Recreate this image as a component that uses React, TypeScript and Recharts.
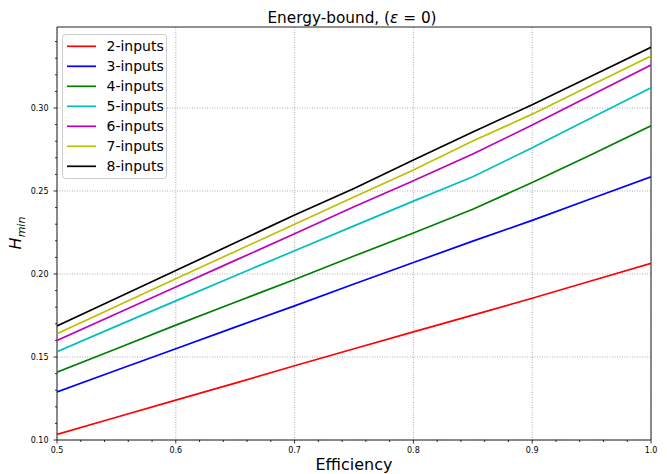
import { LineChart, Line, XAxis, YAxis, CartesianGrid, ReferenceArea } from "recharts"

// efficiency values on the x axis
const efficiency = [0.5, 0.55, 0.6, 0.65, 0.7, 0.75, 0.8, 0.85, 0.9, 0.95, 1.0]

// H_min for each number of inputs
const inputs2 = [0.1034, 0.1137, 0.124, 0.1343, 0.1447, 0.155, 0.1651, 0.1752, 0.1854, 0.1959, 0.2064]
const inputs3 = [0.1289, 0.142, 0.155, 0.168, 0.1808, 0.194, 0.2069, 0.2198, 0.2323, 0.2455, 0.2586]
const inputs4 = [0.1408, 0.155, 0.1692, 0.183, 0.1967, 0.2108, 0.2247, 0.239, 0.2551, 0.272, 0.2893]
const inputs5 = [0.1532, 0.1686, 0.1838, 0.199, 0.214, 0.229, 0.2439, 0.2586, 0.276, 0.2941, 0.3122]
const inputs6 = [0.16, 0.1761, 0.1922, 0.2082, 0.2242, 0.2405, 0.2562, 0.2723, 0.2897, 0.3078, 0.3259]
const inputs7 = [0.164, 0.1806, 0.1972, 0.2136, 0.23, 0.2464, 0.2627, 0.2801, 0.2963, 0.3138, 0.3313]
const inputs8 = [0.1687, 0.1854, 0.2021, 0.2188, 0.2355, 0.2515, 0.2687, 0.2855, 0.302, 0.3193, 0.3366]

const seriesNames = ["2-inputs", "3-inputs", "4-inputs", "5-inputs", "6-inputs", "7-inputs", "8-inputs"]
const seriesColors = ["#ff0000", "#0000ff", "#008000", "#00bfbf", "#bf00bf", "#bfbf00", "#000000"]
const seriesValues = [inputs2, inputs3, inputs4, inputs5, inputs6, inputs7, inputs8]

// major ticks get labels, minor ticks only a short line
const xMajorTicks = [0.5, 0.6, 0.7, 0.8, 0.9, 1.0]
const xMinorTicks = [0.52, 0.54, 0.56, 0.58, 0.62, 0.64, 0.66, 0.68, 0.72, 0.74, 0.76, 0.78, 0.82, 0.84, 0.86, 0.88, 0.92, 0.94, 0.96, 0.98]
const yMajorTicks = [0.1, 0.15, 0.2, 0.25, 0.3]
const yMinorTicks = [0.11, 0.12, 0.13, 0.14, 0.16, 0.17, 0.18, 0.19, 0.21, 0.22, 0.23, 0.24, 0.26, 0.27, 0.28, 0.29, 0.31, 0.32, 0.33, 0.34]

const X_DOMAIN: [number, number] = [0.5, 1.0]
const Y_DOMAIN: [number, number] = [0.1, 0.3488]

const data = efficiency.map((e, i) => {
  const row: Record<string, number> = { efficiency: e }
  seriesNames.forEach((name, s) => {
    row[name] = seriesValues[s][i]
  })
  return row
})

const allXTicks = [...xMajorTicks, ...xMinorTicks].sort((a, b) => a - b)
const allYTicks = [...yMajorTicks, ...yMinorTicks].sort((a, b) => a - b)
const isMajor = (list: number[], v: number) => list.some((t) => Math.abs(t - v) < 1e-6)

const FONT = "DejaVu Sans, sans-serif"

const XTick = (props: any) => {
  const { x, y, payload } = props
  const major = isMajor(xMajorTicks, payload.value)
  return (
    <g>
      <line x1={x} x2={x} y1={y} y2={y + (major ? 3.5 : 2)} stroke="#000" strokeWidth={0.8} />
      {major && (
        <text x={x} y={y + 13} textAnchor="middle" fontSize={8} fill="#000" fontFamily={FONT}>
          {payload.value.toFixed(1)}
        </text>
      )}
    </g>
  )
}

const YTick = (props: any) => {
  const { x, y, payload } = props
  const major = isMajor(yMajorTicks, payload.value)
  return (
    <g>
      <line x1={x - (major ? 3.5 : 2)} x2={x} y1={y} y2={y} stroke="#000" strokeWidth={0.8} />
      {major && (
        <text x={x - 8.5} y={y + 3} textAnchor="end" fontSize={8} fill="#000" fontFamily={FONT}>
          {payload.value.toFixed(2)}
        </text>
      )}
    </g>
  )
}

export default function App() {
  return (
    <div style={{ position: "absolute", left: 0, top: 0, width: 667, height: 474, background: "#fff", fontFamily: FONT }}>
      <LineChart width={667} height={474} data={data} margin={{ top: 27, right: 16, left: 0, bottom: 0 }}>
        <CartesianGrid
          stroke="#999999"
          strokeDasharray="1 1.5"
          strokeWidth={0.8}
          horizontalValues={yMajorTicks}
          verticalValues={xMajorTicks}
        />
        <XAxis
          dataKey="efficiency"
          type="number"
          domain={X_DOMAIN}
          ticks={allXTicks}
          interval={0}
          allowDataOverflow
          height={34}
          axisLine={false}
          tickLine={false}
          tickSize={0}
          tickMargin={0}
          tick={<XTick />}
        />
        <YAxis
          type="number"
          domain={Y_DOMAIN}
          ticks={allYTicks}
          interval={0}
          allowDataOverflow
          width={57}
          axisLine={false}
          tickLine={false}
          tickSize={0}
          tickMargin={0}
          tick={<YTick />}
        />
        {seriesNames.map((name, s) => (
          <Line
            key={name}
            type="linear"
            dataKey={name}
            stroke={seriesColors[s]}
            strokeWidth={1.7}
            dot={false}
            isAnimationActive={false}
          />
        ))}
        <ReferenceArea x1={X_DOMAIN[0]} x2={X_DOMAIN[1]} y1={Y_DOMAIN[0]} y2={Y_DOMAIN[1]} fill="none" stroke="#222" strokeWidth={1} ifOverflow="visible" />
      </LineChart>

      {/* title, axis labels and legend */}
      <svg width={667} height={474} style={{ position: "absolute", left: 0, top: 0, pointerEvents: "none" }} fontFamily={FONT}>
        <text x={352} y={22.7} textAnchor="middle" fontSize={15.3} fill="#000">
          Energy-bound, (<tspan fontStyle="italic">ε</tspan> = 0)
        </text>
        <text x={354} y={470} textAnchor="middle" fontSize={16} fill="#000">
          Efficiency
        </text>
        <text transform="translate(20.7,233) rotate(-90)" textAnchor="middle" fontSize={16} fill="#000">
          <tspan fontStyle="italic">H</tspan>
          <tspan fontStyle="italic" fontSize={11} dy={4}>min</tspan>
        </text>
        <rect x={62.5} y={34.5} width={104} height={144} rx={3} fill="#fff" fillOpacity={0.8} stroke="#cccccc" />
        {seriesNames.map((name, s) => (
          <g key={name}>
            <line x1={67} x2={96} y1={46.3 + s * 20} y2={46.3 + s * 20} stroke={seriesColors[s]} strokeWidth={1.7} />
            <text x={106.5} y={51.3 + s * 20} fontSize={14} fill="#000">
              {name}
            </text>
          </g>
        ))}
      </svg>
    </div>
  )
}
